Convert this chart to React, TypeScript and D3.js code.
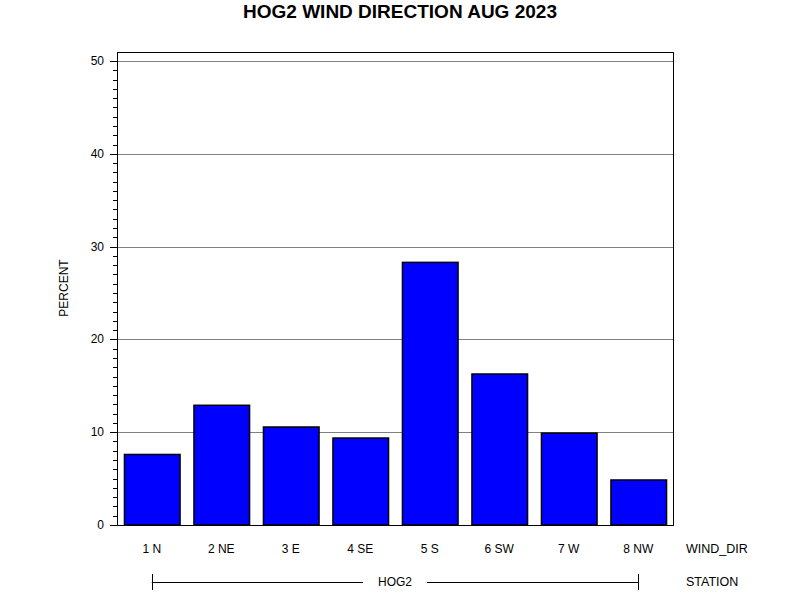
import React from "react";
import * as d3 from "d3";

const categories = ["1 N", "2 NE", "3 E", "4 SE", "5 S", "6 SW", "7 W", "8 NW"];
const values = [7.6, 12.9, 10.56, 9.37, 28.3, 16.27, 9.9, 4.85];
const yTicks = [0, 10, 20, 30, 40, 50];
const title = "HOG2 WIND DIRECTION AUG 2023";
const station = "HOG2";

export default function App() {
  const W = 800, H = 600;
  const left = 117, right = 673, top = 52, bottom = 525;
  const x = d3.scaleBand<string>().domain(categories).range([left, right]).paddingInner(0.2).paddingOuter(0.1);
  const y = d3.scaleLinear().domain([0, 50]).range([bottom, 61]);
  const minor = d3.range(0, 51, 1);
  const font = "Arial, 'Liberation Sans', sans-serif";
  const lineY = 582;
  const lx0 = (x(categories[0]) as number) + x.bandwidth() / 2;
  const lx1 = (x(categories[categories.length - 1]) as number) + x.bandwidth() / 2;
  const cx = (lx0 + lx1) / 2;
  return (
    <svg width={W} height={H} style={{ position: "absolute", left: 0, top: 0, background: "#fff" }} fontFamily={font}>
      <rect x={0} y={0} width={W} height={H} fill="#fff" />
      <text x={400} y={18} textAnchor="middle" fontSize={19} fontWeight="bold">{title}</text>
      {yTicks.filter(t => t > 0).map(t => (
        <line key={"g" + t} x1={left} x2={right} y1={Math.round(y(t)) + 0.5} y2={Math.round(y(t)) + 0.5} stroke="#808080" strokeWidth={1} />
      ))}
      {values.map((v, i) => (
        <rect key={i} x={(x(categories[i]) as number) + 0.5} y={y(v)} width={x.bandwidth()} height={bottom - y(v)} fill="#0000ff" stroke="#000" strokeWidth={1.5} />
      ))}
      <rect x={left + 0.5} y={top + 0.5} width={right - left} height={bottom - top} fill="none" stroke="#000" strokeWidth={1} />
      {minor.map(t => (
        <line key={"m" + t} x1={t % 10 === 0 ? left - 7 : left - 4} x2={left} y1={Math.round(y(t)) + 0.5} y2={Math.round(y(t)) + 0.5} stroke="#000" strokeWidth={1} />
      ))}
      {yTicks.map(t => (
        <text key={"t" + t} x={left - 13} y={y(t) + 4} textAnchor="end" fontSize={12}>{t}</text>
      ))}
      <text transform={`translate(68,288) rotate(-90)`} textAnchor="middle" fontSize={12}>PERCENT</text>
      {categories.map(c => (
        <text key={c} x={(x(c) as number) + x.bandwidth() / 2} y={553} textAnchor="middle" fontSize={12}>{c}</text>
      ))}
      <text x={686} y={553} fontSize={12.5}>WIND_DIR</text>
      <text x={686} y={586} fontSize={12.5}>STATION</text>
      <line x1={lx0} x2={cx - 32} y1={lineY + 0.5} y2={lineY + 0.5} stroke="#000" />
      <line x1={cx + 32} x2={lx1} y1={lineY + 0.5} y2={lineY + 0.5} stroke="#000" />
      <line x1={Math.round(lx0) + 0.5} x2={Math.round(lx0) + 0.5} y1={574} y2={590} stroke="#000" />
      <line x1={Math.round(lx1) + 0.5} x2={Math.round(lx1) + 0.5} y1={574} y2={590} stroke="#000" />
      <text x={cx} y={586} textAnchor="middle" fontSize={12}>{station}</text>
    </svg>
  );
}
